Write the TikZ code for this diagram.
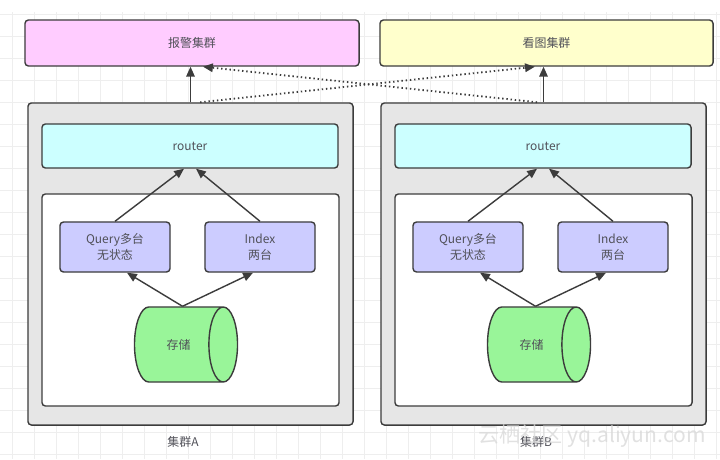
\documentclass[tikz,border=0pt]{standalone}
\usepackage{fontspec}
\setmainfont{Noto Sans CJK SC}
\usetikzlibrary{arrows.meta,shapes.geometric}
\definecolor{edgegray}{HTML}{3C3C3C}
\definecolor{txtgray}{HTML}{505058}
\definecolor{gridgray}{HTML}{EEEEEE}
\definecolor{alarmpink}{HTML}{FFCCFF}
\definecolor{viewyellow}{HTML}{FFFFCC}
\definecolor{clustergray}{HTML}{E6E6E6}
\definecolor{routercyan}{HTML}{CCFFFF}
\definecolor{svcblue}{HTML}{CCCCFF}
\definecolor{storegreen}{HTML}{99F599}
\begin{document}
\begin{tikzpicture}[x=0.025cm, y=-0.025cm,
  every node/.style={font=\fontsize{8.5}{11}\selectfont, text=txtgray},
  box/.style={draw=edgegray, line width=1pt, rounded corners=2.5pt, align=center, inner sep=0pt},
  store/.style={cylinder, draw=edgegray, line width=1pt, fill=storegreen, aspect=2.6,
    minimum width=1.875cm, minimum height=2.575cm, inner sep=0pt},
  arr/.style={draw=edgegray, line width=1pt, -{Triangle[length=7pt,width=6pt]}},
  dotarr/.style={arr, dotted, line width=1.3pt}]
  \useasboundingbox (0,0) rectangle (720,459);
  % background grid
  \foreach \gx in {12,34,...,720} \draw[gridgray, line width=0.4pt] (\gx,12) -- (\gx,459);
  \foreach \gy in {14,36,...,459} \draw[gridgray, line width=0.4pt] (0,\gy) -- (720,\gy);
  % target clusters
  \node[box, fill=alarmpink, minimum width=8.35cm, minimum height=1.15cm] (alarm) at (192,43) {报警集群};
  \node[box, fill=viewyellow, minimum width=8.325cm, minimum height=1.15cm] (view) at (546.5,43) {看图集群};
  % clusters A and B
  \foreach \sx/\nm in {0/A,353/B} {
    \begin{scope}[xshift=\sx*0.025cm]
      \node[box, fill=clustergray, minimum width=8.125cm, minimum height=8.05cm] (cluster\nm) at (190.5,264) {};
      \node[box, fill=routercyan, minimum width=7.4cm, minimum height=1.1cm] (router\nm) at (190,146) {router};
      \node[box, fill=white, minimum width=7.425cm, minimum height=5.3cm] (inner\nm) at (190.5,300) {};
      \node[box, fill=svcblue, minimum width=2.75cm, minimum height=1.25cm] (query\nm) at (115,247) {Query多台\\无状态};
      \node[box, fill=svcblue, minimum width=2.75cm, minimum height=1.25cm] (index\nm) at (260,247) {Index\\两台};
      \node[store] (store\nm) at (178.5,344.5) {存储};
      \node (label\nm) at (183,442) {集群\nm};
      \draw[arr] (query\nm.north) -- ([xshift=-0.15cm]router\nm.south);
      \draw[arr] (index\nm.north) -- ([xshift=0.15cm]router\nm.south);
      \draw[arr] ([xshift=0.1cm]store\nm.north) -- ([xshift=0.3cm]query\nm.south);
      \draw[arr] ([xshift=0.1cm]store\nm.north) -- ([xshift=-0.175cm]index\nm.south);
    \end{scope}
  }
  \draw[arr] (clusterA.north) -- (clusterA.north |- alarm.south);
  \draw[arr] (clusterB.north) -- (clusterB.north |- view.south);
  \draw[dotarr] ([xshift=0.24cm]clusterA.north) -- ([xshift=-0.29cm]view.south);
  \draw[dotarr] ([xshift=-0.16cm]clusterB.north) -- ([xshift=0.275cm]alarm.south);
  % watermark
  \node[font=\fontsize{15}{16}\selectfont, text=gray!30, opacity=0.8] (mark) at (592,436) {云栖社区 yq.aliyun.com};
\end{tikzpicture}
\end{document}
